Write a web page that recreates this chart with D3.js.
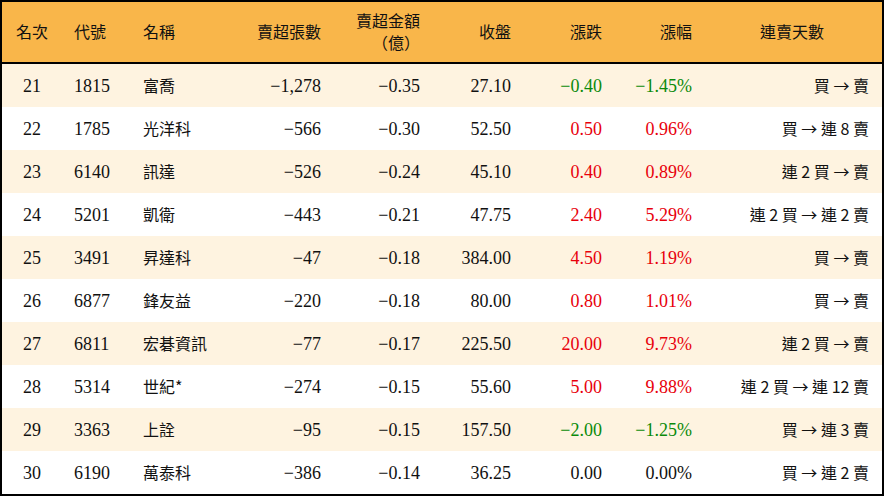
<!DOCTYPE html>
<html><head><meta charset="utf-8">
<script src="https://cdn.jsdelivr.net/npm/d3@7"></script>
<style>body{margin:0;background:#fff}</style></head>
<body><svg id="c" width="884" height="496"></svg>
<script>
const ranks=[21,22,23,24,25,26,27,28,29,30];
const codes=["1815","1785","6140","5201","3491","6877","6811","5314","3363","6190"];
const names=["富喬","光洋科","訊達","凱衛","昇達科","鋒友益","宏碁資訊","世紀*","上詮","萬泰科"];
const sellVol=[-1278,-566,-526,-443,-47,-220,-77,-274,-95,-386];
const sellAmt=[-0.35,-0.30,-0.24,-0.21,-0.18,-0.18,-0.17,-0.15,-0.15,-0.14];
const close=[27.10,52.50,45.10,47.75,384.00,80.00,225.50,55.60,157.50,36.25];
const change=[-0.40,0.50,0.40,2.40,4.50,0.80,20.00,5.00,-2.00,0.00];
const pct=[-1.45,0.96,0.89,5.29,1.19,1.01,9.73,9.88,-1.25,0.00];
const streak=["買 → 賣","買 → 連 8 賣","連 2 買 → 賣","連 2 買 → 連 2 賣","買 → 賣","買 → 賣","連 2 買 → 賣","連 2 買 → 連 12 賣","買 → 連 3 賣","買 → 連 2 賣"];
const headers=["名次","代號","名稱","賣超張數","賣超金額","收盤","漲跌","漲幅","連賣天數"];

const svg=d3.select("#c");
const W=884,H=496,headH=62;
const y=d3.scaleBand().domain(d3.range(ranks.length)).range([64,494]);
const cjk="'Noto Sans CJK TC','Noto Sans CJK SC',serif";
const num="'Liberation Serif','Times New Roman',serif";
svg.append("rect").attr("x",0).attr("y",0).attr("width",W).attr("height",headH).attr("fill","#F9B64A");
svg.selectAll(".row").data(ranks).join("rect").attr("x",0).attr("y",(d,i)=>y(i)).attr("width",W).attr("height",y.bandwidth())
 .attr("fill",(d,i)=>i%2===0?"#FEF3E0":"#FFFFFF");
svg.append("rect").attr("x",0).attr("y",headH).attr("width",W).attr("height",2).attr("fill","#000");
svg.append("rect").attr("x",1).attr("y",1).attr("width",W-2).attr("height",H-2).attr("fill","none").attr("stroke","#000").attr("stroke-width",2);

const cols=[
 {x:32,a:"middle",hx:32,ha:"middle"},
 {x:74,a:"start",hx:74,ha:"start"},
 {x:143,a:"start",hx:143,ha:"start"},
 {x:321,a:"end",hx:321,ha:"end"},
 {x:420,a:"end",hx:420,ha:"end"},
 {x:511,a:"end",hx:511,ha:"end"},
 {x:602,a:"end",hx:602,ha:"end"},
 {x:692,a:"end",hx:692,ha:"end"},
 {x:869,a:"end",hx:792,ha:"middle"}];
const g=svg.append("g");
headers.forEach((h,i)=>{
  const t=g.append("text").attr("x",cols[i].hx).attr("text-anchor",cols[i].ha)
   .attr("font-family",cjk).attr("font-size",16).attr("fill","#111");
  if(i===4){
    t.attr("y",27).text("賣超金額");
    g.append("text").attr("x",396).attr("y",49).attr("text-anchor","middle").attr("font-family",cjk).attr("font-size",16).attr("fill","#111").text("（億）");
  } else t.attr("y",38).text(h);
});
const fmtInt=d3.format(",d"),f2=d3.format(".2f");
const col=v=>v>0?"#E8000B":v<0?"#0A8A0A":"#111";
ranks.forEach((r,i)=>{
  const cy=y(i)+y.bandwidth()/2+6;
  const cells=[
    [String(r),num,"#111"],[codes[i],num,"#111"],[names[i],cjk,"#111"],
    [fmtInt(sellVol[i]),num,"#111"],[f2(sellAmt[i]),num,"#111"],[f2(close[i]),num,"#111"],
    [f2(change[i]),num,col(change[i])],[f2(pct[i])+"%",num,col(pct[i])],[streak[i],cjk,"#111"]];
  cells.forEach((c,j)=>{
    g.append("text").attr("x",cols[j].x).attr("y",cy).attr("text-anchor",cols[j].a)
     .attr("font-family",c[1]).attr("font-size",c[1]===num?18:16).attr("fill",c[2]).text(c[0]);
  });
});
</script></body></html>
